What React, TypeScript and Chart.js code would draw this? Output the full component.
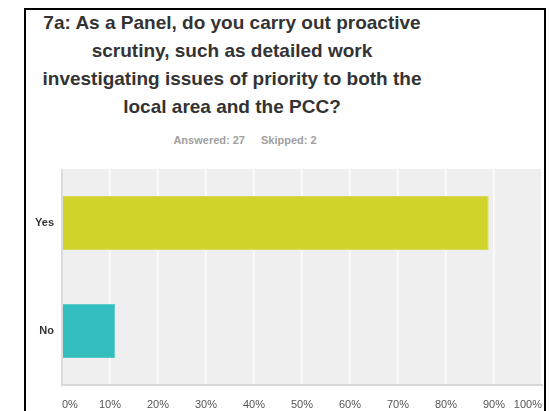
import React, { useEffect, useRef } from "react";
import { Chart, registerables } from "chart.js";

Chart.register(...registerables);

const titleLines = [
  "7a: As a Panel, do you carry out proactive",
  "scrutiny, such as detailed work",
  "investigating issues of priority to both the",
  "local area and the PCC?",
];
const answeredText = "Answered: 27";
const skippedText = "Skipped: 2";
const categories = ["Yes", "No"];
const percentValues = [88.89, 11.11];
const barColors = ["#d0d42a", "#33bdbf"];
const tickStep = 10;

const FONT = "'Liberation Sans', Arial, Helvetica, sans-serif";

const bgPlugin = {
  id: "plotBg",
  beforeDraw(chart: any) {
    const { ctx, chartArea } = chart;
    if (!chartArea) return;
    ctx.save();
    ctx.fillStyle = "#efefef";
    ctx.fillRect(chartArea.left, chartArea.top, chartArea.right - chartArea.left, chartArea.bottom - chartArea.top);
    ctx.restore();
  },
};

export default function App() {
  const canvasRef = useRef<HTMLCanvasElement | null>(null);

  useEffect(() => {
    if (!canvasRef.current) return;
    const chart = new Chart(canvasRef.current, {
      type: "bar",
      data: {
        labels: categories,
        datasets: [
          {
            data: percentValues,
            backgroundColor: barColors,
            borderColor: ["#d9dc5a", "#5ccacb"],
            borderWidth: 1,
            barPercentage: 0.5,
            categoryPercentage: 1,
          },
        ],
      },
      options: {
        indexAxis: "y",
        responsive: false,
        maintainAspectRatio: false,
        animation: false,
        layout: { padding: { top: 9, right: 2, left: 0, bottom: 0 } },
        plugins: {
          legend: { display: false },
          title: { display: false },
          tooltip: { enabled: false },
        },
        scales: {
          x: {
            min: 0,
            max: 100,
            grid: {
              drawTicks: false,
              color: (c: any) => (c.tick && c.tick.value === 0 ? "#dcdcdc" : "#ffffff"),
              lineWidth: (c: any) => (c.tick && c.tick.value === 0 ? 2 : 1.5),
            },
            border: { display: true, color: "#d8d8d8", width: 2 },
            ticks: {
              stepSize: tickStep,
              align: "inner",
              padding: 13,
              color: "#555",
              font: { family: FONT, size: 11 },
              callback: (v: any) => v + "%",
            },
            afterFit: (s: any) => {
              s.height = 35;
              s.paddingLeft = 0;
              s.paddingRight = 0;
            },
          },
          y: {
            grid: { display: false, drawTicks: false },
            border: { display: false },
            ticks: {
              padding: 8,
              color: "#333",
              font: { family: FONT, size: 11, weight: "bold" },
            },
            afterFit: (s: any) => {
              s.width = 36;
              s.paddingTop = 0;
              s.paddingBottom = 0;
            },
          },
        },
      },
      plugins: [bgPlugin],
    });
    return () => chart.destroy();
  }, []);

  return (
    <div
      style={{
        position: "fixed",
        left: 24,
        top: 8,
        width: 522,
        height: 430,
        boxSizing: "border-box",
        border: "2px solid #000",
        background: "#fff",
        overflow: "hidden",
        fontFamily: FONT,
      }}
    >
      <div
        style={{
          position: "absolute",
          left: -4,
          top: -1.5,
          width: 420,
          textAlign: "center",
          fontSize: 19,
          fontWeight: "bold",
          lineHeight: "28.3px",
          color: "#333",
        }}
      >
        {titleLines.map((l, i) => (
          <div key={i}>{l}</div>
        ))}
      </div>
      <div
        style={{
          position: "absolute",
          left: 119,
          top: 123,
          width: 200,
          textAlign: "center",
          fontSize: 11,
          fontWeight: "bold",
          lineHeight: "14px",
          color: "#a0a0a0",
          whiteSpace: "nowrap",
        }}
      >
        <span>{answeredText}</span>
        <span style={{ marginLeft: 16 }}>{skippedText}</span>
      </div>
      <canvas
        ref={canvasRef}
        width={518}
        height={260}
        style={{ position: "absolute", left: 0, top: 150, width: 518, height: 260 }}
      />
    </div>
  );
}
